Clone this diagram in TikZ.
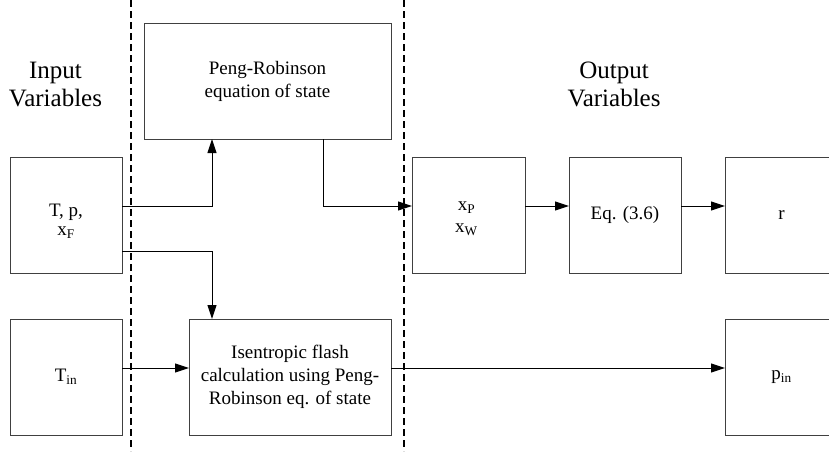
\documentclass[tikz,border=0pt]{standalone}
\usepackage{fontspec}
\setmainfont{Liberation Serif}
\usetikzlibrary{arrows.meta}
\begin{document}
\begin{tikzpicture}[x=1pt,y=-1pt,
  blk/.style={draw=black!75, line width=1pt, rectangle, inner sep=0pt, outer sep=0pt,
    align=center, font=\fontsize{19}{23}\selectfont},
  txt/.style={inner sep=0pt, align=center, font=\fontsize{19}{23}\selectfont},
  head/.style={inner sep=0pt, align=center, font=\fontsize{25}{28}\selectfont},
  arr/.style={draw=black, line width=1pt, -{Triangle[length=14pt,width=9pt]}},
  divider/.style={draw=black, line width=2.2pt, dash pattern=on 7pt off 4pt}]
\useasboundingbox (0,0) rectangle (829,451);
\clip (0,0) rectangle (829,451);
% dashed dividers
\coordinate (d1t) at (131,0);
\coordinate (d1b) at (131,451);
\coordinate (d2t) at (404,0);
\coordinate (d2b) at (404,451);
\draw[divider] (d1t) -- (d1b);
\draw[divider] (d2t) -- (d2b);
% headings
\node[head] (hin) at (55.5,84) {Input\\Variables};
\node[head] (hout) at (614,84) {Output\\Variables};
% boxes
\node[blk, minimum width=247pt, minimum height=116pt] (pr) at (267.5,81) {Peng-Robinson\\equation of state};
\node[blk, minimum width=112pt, minimum height=116pt] (tpx) at (66,215) {};
\node[txt] (tpxt) at ([yshift=-6pt]tpx.center) {T, p,\\[-4pt]x\textsubscript{F}};
\node[blk, minimum width=113pt, minimum height=116pt] (xpw) at (468.5,215) {};
\node[txt] (xpwt) at ([xshift=-2pt,yshift=-4pt]xpw.center) {x\textsubscript{P}\\[-1pt]x\textsubscript{W}};
\node[blk, minimum width=112pt, minimum height=116pt] (eq) at (625,215) {Eq. (3.6)};
\node[blk, minimum width=113pt, minimum height=116pt] (r) at (781.5,215) {r};
\node[blk, minimum width=112pt, minimum height=116pt] (tin) at (66,377) {T\textsubscript{in}};
\node[blk, minimum width=202pt, minimum height=116pt] (isen) at (290,377) {Isentropic flash\\calculation using Peng-\\Robinson eq. of state};
\node[blk, minimum width=113pt, minimum height=116pt] (pin) at (781.5,377) {p\textsubscript{in}};
% connectors
\draw[arr] ([yshift=9pt]tpx.east) -| ([xshift=-55.5pt]pr.south);
\draw[arr] ([yshift=-36pt]tpx.east) -| ([xshift=-78pt]isen.north);
\draw[arr] ([xshift=55.5pt]pr.south) |- ([yshift=9pt]xpw.west);
\draw[arr] ([yshift=9pt]xpw.east) -- ([yshift=9pt]eq.west);
\draw[arr] ([yshift=9pt]eq.east) -- ([yshift=9pt]r.west);
\draw[arr] ([yshift=9pt]tin.east) -- ([yshift=9pt]isen.west);
\draw[arr] ([yshift=9pt]isen.east) -- ([yshift=9pt]pin.west);
\end{tikzpicture}
\end{document}
